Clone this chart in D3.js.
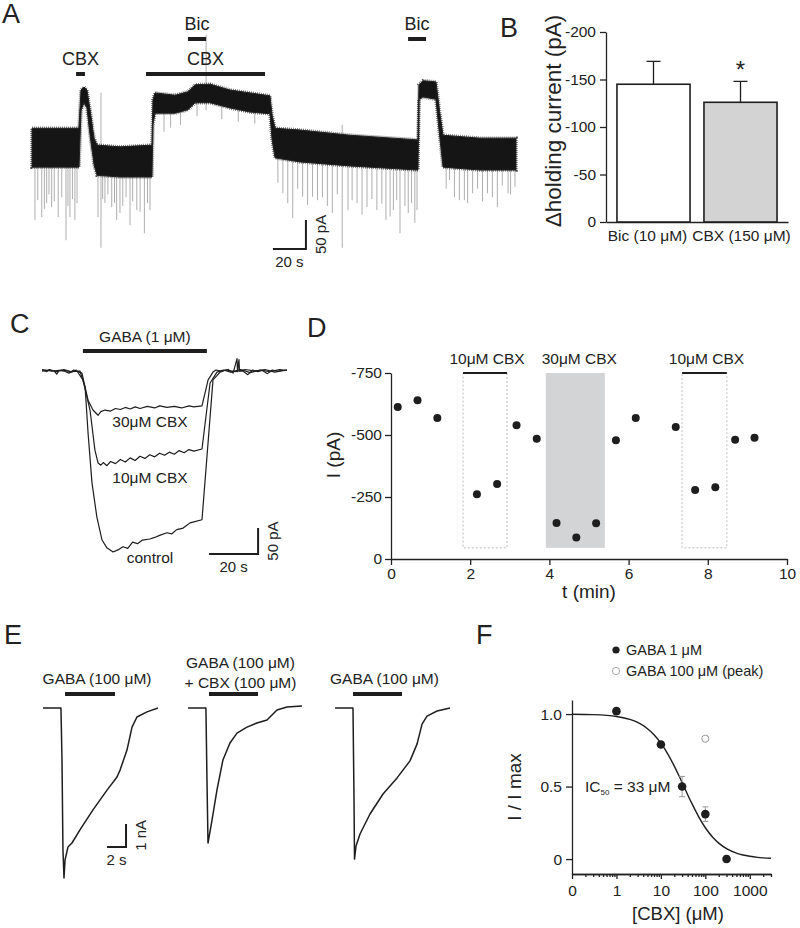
<!DOCTYPE html>
<html>
<head>
<meta charset="utf-8">
<script src="https://cdn.jsdelivr.net/npm/d3@7"></script>
<style>
  body { margin: 0; background: #fff; }
  svg { font-family: "Liberation Sans", Arial, sans-serif; }
  .axis path, .axis line { stroke: #222; stroke-width: 1.3; }
  .axis text { font-size: 15.5px; fill: #222; font-family: "Liberation Sans", Arial, sans-serif; }
  .lbl { fill: #222; }
</style>
</head>
<body>
<div id="fig"></div>
<script>
// ---------- panel A: holding current trace, t (s) / I (pA), upward = outward shift
// noise band of the recording: [t, lower edge, upper edge]
const aBand = [
  [0, -33, 34], [28.5, -33, 34], [29.7, 65, 100], [31.5, 78, 105], [33.3, 69, 100],
  [35.2, 22, 66], [37.6, -29, 17], [39.4, -47, 5], [53.3, -50, 2], [72.7, -50, 5],
  [73.3, 40, 83], [74.5, 60, 95], [86.7, 60, 91], [94.5, 66, 97], [98.8, 78, 109],
  [107.9, 78, 110], [120, 69, 100], [132.1, 62, 95], [144.2, 59, 90], [145.5, 14, 57],
  [147.3, -17, 34], [162.4, -24, 31], [192.7, -31, 22], [233.9, -38, 14], [234.5, 84, 109],
  [237, 88, 116], [244.8, 84, 114], [247.3, 14, 57], [249.1, -33, 22], [271.5, -38, 17],
  [293.3, -38, 17]
];
// spontaneous IPSCs: [t, peak]
const aSpikes = [
  [1.8, -124], [3.5, -90], [5.9, -119], [7.5, -105], [8.9, -95], [10.3, -80], [11.9, -102],
  [13.5, -92], [15.9, -119], [18, -85], [20.6, -159], [21.8, -100], [23, -119], [24.5, -88],
  [26, -124], [27.3, -95],
  [40, -119], [42.8, -88], [44.2, -95], [46, -80], [48.3, -102], [50, -95], [51.3, -124],
  [53.3, -112], [55, -100], [57, -85], [59.4, -133], [61, -92], [63.5, -107], [65.5, -110],
  [68.1, -147], [70, -95], [71.5, -107],
  [80, 28], [84, 35], [90, 40], [100, 55], [115, 50], [125, 45], [135, 42],
  [149, -60], [152, -78], [155, -95], [158, -121], [161, -70], [164, -84], [167, -98],
  [170, -84], [173, -90], [176, -85], [179, -100], [182, -112], [185, -80], [191.5, -107],
  [194, -90], [197, -95], [200, -115], [203, -102], [206, -88], [209, -107], [212, -96],
  [214.5, -124], [217, -118], [219, -107], [221, -90], [223, -147], [226, -100], [228, -112],
  [230, -95], [232, -129], [233.3, -107],
  [251, -70], [253, -55], [256, -85], [259, -90], [262, -90], [264, -95], [267, -78],
  [270, -70], [273, -92], [276, -78], [279, -85], [282, -102], [285, -65], [288.5, -78],
  [290, -80], [292.7, -67]
];
// thin artefact lines crossing the band: [t, bottom, top]
const aArtifacts = [[41.8, -172, 95], [105.5, 65, 195], [188, -172, 40]];
const aDrug = ["CBX", "Bic", "CBX", "Bic"];
const aDrugStart = [26.7, 94.5, 69.1, 227.9];
const aDrugEnd = [32.1, 105.5, 141.2, 238.8];

// ---------- panel B: change of holding current
const bCategories = ["Bic (10 μM)", "CBX (150 μM)"];
const bMeans = [-145, -126];
const bSem = [24, 22];
const bTicks = [0, -50, -100, -150, -200];

// ---------- panel C: GABA 1 µM responses, t (s) / I (pA)
const cThirty = [
  [0, 0], [2, -3], [3, 1], [5, -2], [6, -8], [7, -1], [9, -2], [11, -6], [13, 0], [16.3, -6],
  [18.8, -58], [20.8, -77], [22.9, -87], [24, -80], [25.7, -77], [28, -79], [30, -74],
  [32, -76], [34, -72], [36, -75], [38, -71], [40, -74], [43, -70], [46, -73], [48, -69],
  [51, -72], [54, -70], [57, -73], [60, -69], [62, -71], [65.3, -69], [67.8, -19],
  [69.8, -4], [71, 0], [73, -2], [76, 1], [78, -6], [79.6, 22], [79.8, -3], [80.4, 20],
  [80.6, -2], [82, -2], [84, -9], [86, 0], [88, -3], [90, -1], [92, -7], [94, 0], [96, -2],
  [98, -1], [100, 0]
];
const cTen = [
  [0, -2], [3, 0], [6, -3], [9, 1], [12, -4], [14, 0], [16.7, -19], [19.6, -77],
  [21.6, -154], [22.9, -179], [24, -183], [25, -178], [26.5, -184], [28, -176], [30, -180],
  [32, -172], [34, -177], [36, -169], [38, -174], [40, -166], [42, -170], [44, -163],
  [46, -167], [48, -160], [50, -164], [52, -158], [54, -162], [56, -155], [58, -159],
  [60, -153], [62, -156], [65.3, -152], [68.6, -25], [71.4, -4], [74, 0], [77, -4], [81, 1],
  [85, -5], [89, 0], [93, -3], [97, 1], [100, -1]
];
const cControl = [
  [0, 1], [4, -2], [8, 0], [12, -3], [15.5, -2], [17.6, -33], [18.8, -121], [20.4, -217],
  [22.4, -283], [24.5, -327], [26.5, -342], [29, -350], [31, -346], [33, -340], [35, -343],
  [37, -331], [39, -334], [41, -327], [44, -325], [46, -322], [48, -318], [51, -313],
  [53, -315], [55, -307], [57.6, -304], [59, -299], [60.4, -294], [62, -292], [65.3, -288],
  [69.8, -19], [72.7, -4], [75, 0], [79, -3], [83, 1], [87, -2], [91, 1], [95, -4], [100, 0]
];
const cLabels = ["30μM CBX", "10μM CBX", "control"];
const cGabaStart = 16.7, cGabaEnd = 67.3;

// ---------- panel D: time course, t (min) / I (pA)
const dTime = [0.17, 0.67, 1.17, 2.17, 2.68, 3.17, 3.68, 4.18, 4.68, 5.18, 5.68, 6.18, 7.19, 7.68, 8.19, 8.69, 9.18];
const dCurrent = [-613, -640, -569, -261, -302, -539, -485, -145, -87, -144, -479, -569, -532, -278, -289, -481, -489];
const dCbxStart = [1.82, 3.91, 7.35];
const dCbxEnd = [2.93, 5.40, 8.48];
const dCbxLabel = ["10μM CBX", "30μM CBX", "10μM CBX"];
const dTicksX = [0, 2, 4, 6, 8, 10];
const dTicksY = [0, -250, -500, -750];

// ---------- panel E: GABA 100 µM responses, t (s) / I (nA)
const eTraces = [
  [[0, 0], [1.89, 0], [2.0, -2.26], [2.1, -6.17], [2.21, -7.39], [2.32, -6.61], [2.63, -6.04],
   [3.05, -5.87], [3.89, -5.3], [5.26, -4.43], [6.74, -3.57], [7.79, -3.0], [8.11, -2.7],
   [8.84, -1.83], [9.37, -0.83], [9.89, -0.39], [10.95, -0.17], [12.1, 0]],
  [[0, 0], [1.89, 0], [2.0, -3.13], [2.11, -5.87], [2.53, -4.87], [3.05, -3.57], [3.68, -2.26],
   [4.42, -1.52], [5.16, -1.09], [6.21, -0.83], [7.26, -0.65], [8.32, -0.52], [9.37, -0.09],
   [10.42, 0.04], [12.0, 0.09]],
  [[0, 0], [1.89, 0], [2.0, -4.04], [2.05, -6.57], [2.21, -6.0], [2.63, -5.48], [3.68, -4.61],
   [5.05, -3.74], [6.53, -3.04], [7.89, -2.3], [8.63, -1.57], [9.16, -0.7], [9.68, -0.35],
   [10.74, -0.13], [12.1, 0]]
];
const eGabaStart = [2.32, 2.21, 1.89];
const eGabaEnd = [7.58, 7.37, 7.05];
const eLabels = [["GABA (100 μM)"], ["GABA (100 μM)", "+ CBX (100 μM)"], ["GABA (100 μM)"]];

// ---------- panel F: concentration-response, [CBX] (µM) / I/Imax
const fConc = [1, 10, 30, 100, 300];
const fMean = [1.02, 0.79, 0.50, 0.31, 0.0];
const fSem = [0.02, 0.02, 0.07, 0.05, 0.02];
const fPeakConc = [100];
const fPeakMean = [0.83];
const fFitConc = [0.1, 0.3, 1, 2, 3, 5, 7, 10, 15, 20, 25, 33, 40, 50, 70, 100, 150, 200, 300, 500, 700, 1000, 1500, 2000, 3000];
const fFitVal = [0.999, 0.996, 0.983, 0.963, 0.942, 0.899, 0.858, 0.800, 0.714, 0.641, 0.580, 0.500, 0.444, 0.382, 0.295, 0.216, 0.147, 0.110, 0.072, 0.041, 0.028, 0.019, 0.012, 0.0085, 0.0053];
const fTicksX = [0.1, 1, 10, 100, 1000];
const fTickLabelsX = ["0", "1", "10", "100", "1000"];
const fTicksY = [0, 0.5, 1.0];

const ink = "#1e1e1e";
const svg = d3.select("#fig").append("svg").attr("width", 800).attr("height", 928);

// panel letters
const letters = [["A", 2, 23], ["B", 500, 37], ["C", 10, 333], ["D", 307, 337], ["E", 4, 644], ["F", 476, 644]];
svg.selectAll("text.letter").data(letters).enter().append("text")
  .attr("class", "letter lbl")
  .attr("x", d => d[1]).attr("y", d => d[2])
  .attr("font-size", "27px")
  .text(d => d[0]);

// helper: scale bar, corner at (t, v)
let scaleBar = (g, x, y, t, v, dt, dv, tText, vText) => {
  g.append("path")
    .attr("d", `M${x(t - dt)},${y(v)}H${x(t)}V${y(v + dv)}`)
    .attr("fill", "none").attr("stroke", ink).attr("stroke-width", 2);
  g.append("text").attr("class", "lbl").attr("font-size", "15px")
    .attr("x", x(t - dt / 2)).attr("y", y(v) + 18).attr("text-anchor", "middle").text(tText);
  g.append("text").attr("class", "lbl").attr("font-size", "15px")
    .attr("transform", `translate(${x(t) + 20},${y(v + dv / 2)}) rotate(-90)`)
    .attr("text-anchor", "middle").text(vText);
};

// ================= panel A
{
  const g = svg.append("g");
  const x = d3.scaleLinear().domain([0, 293.3]).range([32, 516]);
  const y = d3.scaleLinear().domain([-200, 200]).range([264, 32]);
  const lowEdge = d3.scaleLinear().domain(aBand.map(d => d[0])).range(aBand.map(d => d[1]));

  // spikes first, under the band
  g.selectAll("line.spike").data(aSpikes).enter().append("line")
    .attr("x1", d => x(d[0])).attr("x2", d => x(d[0]))
    .attr("y1", d => y(lowEdge(d[0]) + 10)).attr("y2", d => y(d[1]))
    .attr("stroke", "#999").attr("stroke-width", 0.8);
  g.selectAll("line.art").data(aArtifacts).enter().append("line")
    .attr("x1", d => x(d[0])).attr("x2", d => x(d[0]))
    .attr("y1", d => y(d[1])).attr("y2", d => y(d[2]))
    .attr("stroke", "#999").attr("stroke-width", 0.8);

  const band = d3.area().x(d => x(d[0])).y0(d => y(d[1])).y1(d => y(d[2]));
  // soft edge, then the dense core of the noisy record
  g.append("path").datum(aBand).attr("d", band)
    .attr("fill", "none").attr("stroke", "#4a4a4a").attr("stroke-width", 3.5)
    .attr("stroke-dasharray", "0.7,1.3");
  g.append("path").datum(aBand).attr("d", band)
    .attr("fill", "#151515").attr("stroke", "#222").attr("stroke-width", 1);

  // drug application bars
  const rowY = { CBX: 74, Bic: 39 };
  aDrug.forEach((drug, i) => {
    g.append("line")
      .attr("x1", x(aDrugStart[i])).attr("x2", x(aDrugEnd[i]))
      .attr("y1", rowY[drug]).attr("y2", rowY[drug])
      .attr("stroke", ink).attr("stroke-width", 4);
    g.append("text").attr("class", "lbl").attr("font-size", "18px")
      .attr("x", x((aDrugStart[i] + aDrugEnd[i]) / 2)).attr("y", rowY[drug] - 9)
      .attr("text-anchor", "middle").text(drug);
  });

  scaleBar(g, x, y, 166, -174, 20, 50, "20 s", "50 pA");
}

// ================= panel B
{
  const g = svg.append("g");
  const x = d3.scaleBand().domain(bCategories).range([606, 788]).paddingInner(0.16).paddingOuter(0.126);
  const y = d3.scaleLinear().domain([0, -200]).range([222, 32]);

  g.append("g").attr("class", "axis").attr("transform", "translate(606,0)")
    .call(d3.axisLeft(y).tickValues(bTicks).tickSize(6).tickSizeOuter(0).tickPadding(4).tickFormat(d => String(d)));
  const xa = g.append("g").attr("class", "axis").attr("transform", "translate(0,222)")
    .call(d3.axisBottom(x).tickSize(0).tickSizeOuter(0).tickPadding(8));
  xa.selectAll("text").attr("font-size", "14.5px").attr("dx", (d, i) => i === 0 ? -6 : 1);

  // error bars
  bCategories.forEach((c, i) => {
    const cx = x(c) + x.bandwidth() / 2;
    g.append("path")
      .attr("d", `M${cx},${y(bMeans[i])}V${y(bMeans[i] - bSem[i])}M${cx - 7},${y(bMeans[i] - bSem[i])}H${cx + 7}`)
      .attr("stroke", ink).attr("stroke-width", 1.3).attr("fill", "none");
  });
  g.selectAll("rect.bar").data(bCategories).enter().append("rect")
    .attr("x", d => x(d)).attr("width", x.bandwidth())
    .attr("y", (d, i) => y(bMeans[i])).attr("height", (d, i) => y(0) - y(bMeans[i]))
    .attr("fill", (d, i) => i === 0 ? "#fff" : "#d3d3d3")
    .attr("stroke", ink).attr("stroke-width", 1.6);

  g.append("text").attr("class", "lbl").attr("font-size", "24px")
    .attr("x", x(bCategories[1]) + x.bandwidth() / 2).attr("y", y(bMeans[1] - bSem[1]) - 3)
    .attr("text-anchor", "middle").text("*");

  g.append("text").attr("class", "lbl").attr("font-size", "22.5px")
    .attr("transform", "translate(561,121) rotate(-90)").attr("text-anchor", "middle")
    .text("Δholding current (pA)");
}

// ================= panel C
{
  const g = svg.append("g");
  const x = d3.scaleLinear().domain([0, 100]).range([42, 287]);
  const y = d3.scaleLinear().domain([-400, 50]).range([578, 344]);
  const line = d3.line().x(d => x(d[0])).y(d => y(d[1]));

  [cControl, cTen, cThirty].forEach(tr => {
    g.append("path").datum(tr).attr("d", line)
      .attr("fill", "none").attr("stroke", ink).attr("stroke-width", 1.2).attr("stroke-linejoin", "round");
  });

  g.append("line").attr("x1", x(cGabaStart)).attr("x2", x(cGabaEnd)).attr("y1", 351).attr("y2", 351)
    .attr("stroke", ink).attr("stroke-width", 4);
  g.append("text").attr("class", "lbl").attr("font-size", "15.5px")
    .attr("x", x((cGabaStart + cGabaEnd) / 2)).attr("y", 342).attr("text-anchor", "middle")
    .text("GABA (1 μM)");

  const labelY = [427, 483, 563];
  cLabels.forEach((l, i) => {
    g.append("text").attr("class", "lbl").attr("font-size", "15.5px")
      .attr("x", 150).attr("y", labelY[i]).attr("text-anchor", "middle").text(l);
  });

  scaleBar(g, x, y, 88.2, -354, 20, 50, "20 s", "50 pA");
}

// ================= panel D
{
  const g = svg.append("g");
  const x = d3.scaleLinear().domain([0, 10]).range([391, 787]);
  const y = d3.scaleLinear().domain([0, -750]).range([559, 373]);

  dCbxStart.forEach((t0, i) => {
    const r = g.append("rect")
      .attr("x", x(t0)).attr("width", x(dCbxEnd[i]) - x(t0))
      .attr("y", y(-750)).attr("height", y(-45) - y(-750));
    if (i === 1) {
      r.attr("fill", "#d3d4d6");
    } else {
      r.attr("fill", "none").attr("stroke", "#bdbdbd").attr("stroke-width", 1).attr("stroke-dasharray", "2,2");
      g.append("line").attr("x1", x(t0)).attr("x2", x(dCbxEnd[i])).attr("y1", y(-750)).attr("y2", y(-750))
        .attr("stroke", ink).attr("stroke-width", 2.2);
    }
    g.append("text").attr("class", "lbl").attr("font-size", "15.5px")
      .attr("x", x((t0 + dCbxEnd[i]) / 2) + (i === 1 ? 4 : 2)).attr("y", 364).attr("text-anchor", "middle")
      .text(dCbxLabel[i]);
  });

  g.append("g").attr("class", "axis").attr("transform", "translate(391,0)")
    .call(d3.axisLeft(y).tickValues(dTicksY).tickSize(6).tickSizeOuter(0).tickPadding(3).tickFormat(d => String(d)));
  g.append("g").attr("class", "axis").attr("transform", "translate(0,559)")
    .call(d3.axisBottom(x).tickValues(dTicksX).tickSize(6).tickSizeOuter(0).tickPadding(3).tickFormat(d => String(d)));

  g.selectAll("circle.pt").data(dTime).enter().append("circle")
    .attr("cx", d => x(d)).attr("cy", (d, i) => y(dCurrent[i])).attr("r", 4)
    .attr("fill", ink);

  g.append("text").attr("class", "lbl").attr("font-size", "19px")
    .attr("x", x(5)).attr("y", 598).attr("text-anchor", "middle").text("t (min)");
  g.append("text").attr("class", "lbl").attr("font-size", "19px")
    .attr("transform", "translate(340,455) rotate(-90)").attr("text-anchor", "middle").text("I (pA)");
}

// ================= panel E
{
  const g = svg.append("g");
  const x = d3.scaleLinear().domain([0, 40]).range([43, 423]);
  const y = d3.scaleLinear().domain([-8, 1]).range([892, 685]);
  const offset = [0, 15.26, 30.74];

  eTraces.forEach((tr, i) => {
    const line = d3.line().x(d => x(d[0] + offset[i])).y(d => y(d[1]));
    g.append("path").datum(tr).attr("d", line)
      .attr("fill", "none").attr("stroke", ink).attr("stroke-width", 1.5).attr("stroke-linejoin", "round");
    g.append("line")
      .attr("x1", x(eGabaStart[i] + offset[i])).attr("x2", x(eGabaEnd[i] + offset[i]))
      .attr("y1", 694).attr("y2", 694).attr("stroke", ink).attr("stroke-width", 4);
    const cx = x((eGabaStart[i] + eGabaEnd[i]) / 2 + offset[i]) + 7;
    eLabels[i].forEach((l, k) => {
      g.append("text").attr("class", "lbl").attr("font-size", "15.5px")
        .attr("x", cx).attr("y", eLabels[i].length === 1 ? 684 : 668 + k * 20)
        .attr("text-anchor", "middle").text(l);
    });
  });

  scaleBar(g, x, y, 8.74, -6.04, 2, 1, "2 s", "1 nA");
}

// ================= panel F
{
  const g = svg.append("g");
  const x = d3.scaleLog().domain([0.1, 3000]).range([572, 771]);
  const y = d3.scaleLinear().domain([-0.103, 1.097]).range([874, 700]);

  g.append("g").attr("class", "axis").attr("transform", "translate(572,0)")
    .call(d3.axisLeft(y).tickValues(fTicksY).tickSize(6).tickSizeOuter(0).tickPadding(4)
      .tickFormat(d => d === 0 ? "0" : d3.format(".1f")(d)));

  // minor log ticks
  const minor = [];
  [0.1, 1, 10, 100, 1000].forEach(dec => {
    for (let k = 2; k <= 9; k++) if (dec * k <= 3000) minor.push(dec * k);
  });
  const minorAxis = g.append("g").attr("class", "axis").attr("transform", "translate(0,874)")
    .call(d3.axisBottom(x).tickValues(minor).tickSize(3).tickSizeOuter(0));
  minorAxis.selectAll("text").remove();
  const majorAxis = g.append("g").attr("class", "axis").attr("transform", "translate(0,874)")
    .call(d3.axisBottom(x).tickValues(fTicksX).tickSize(5).tickSizeOuter(0).tickPadding(6)
      .tickFormat((d, i) => fTickLabelsX[i]));
  majorAxis.selectAll("text").attr("font-size", "14.5px");

  const fit = d3.line().x((d, i) => x(fFitConc[i])).y(d => y(d)).curve(d3.curveMonotoneX);
  g.append("path").datum(fFitVal).attr("d", fit)
    .attr("fill", "none").attr("stroke", ink).attr("stroke-width", 1.4);

  // error bars
  fConc.forEach((c, i) => {
    const cx = x(c), y0 = y(fMean[i] - fSem[i]), y1 = y(fMean[i] + fSem[i]);
    g.append("path").attr("d", `M${cx},${y0}V${y1}M${cx - 3},${y0}H${cx + 3}M${cx - 3},${y1}H${cx + 3}`)
      .attr("stroke", "#9a9a9a").attr("stroke-width", 1).attr("fill", "none");
  });
  g.selectAll("circle.pt").data(fConc).enter().append("circle")
    .attr("cx", d => x(d)).attr("cy", (d, i) => y(fMean[i])).attr("r", 4.3).attr("fill", ink);
  g.selectAll("circle.pk").data(fPeakConc).enter().append("circle")
    .attr("cx", d => x(d)).attr("cy", (d, i) => y(fPeakMean[i])).attr("r", 3.6)
    .attr("fill", "#fff").attr("stroke", "#9a9a9a").attr("stroke-width", 1);

  // legend
  g.append("circle").attr("cx", 616).attr("cy", 650).attr("r", 3.6).attr("fill", ink);
  g.append("circle").attr("cx", 616).attr("cy", 671).attr("r", 3.6).attr("fill", "#fff")
    .attr("stroke", "#aaa").attr("stroke-width", 1);
  g.append("text").attr("class", "lbl").attr("font-size", "14.5px").attr("x", 626).attr("y", 655).text("GABA 1 μM");
  g.append("text").attr("class", "lbl").attr("font-size", "14.5px").attr("x", 626).attr("y", 676).text("GABA 100 μM (peak)");

  const ic = g.append("text").attr("class", "lbl").attr("font-size", "15.5px").attr("x", 585).attr("y", 792);
  ic.append("tspan").text("IC");
  ic.append("tspan").attr("font-size", "8px").attr("dy", 3).text("50");
  ic.append("tspan").attr("dy", -3).text(" = 33 μM");

  g.append("text").attr("class", "lbl").attr("font-size", "18.5px")
    .attr("x", 678).attr("y", 920).attr("text-anchor", "middle").text("[CBX] (μM)");
  g.append("text").attr("class", "lbl").attr("font-size", "19px")
    .attr("transform", "translate(521,787) rotate(-90)").attr("text-anchor", "middle").text("I / I max");
}
</script>
</body>
</html>
